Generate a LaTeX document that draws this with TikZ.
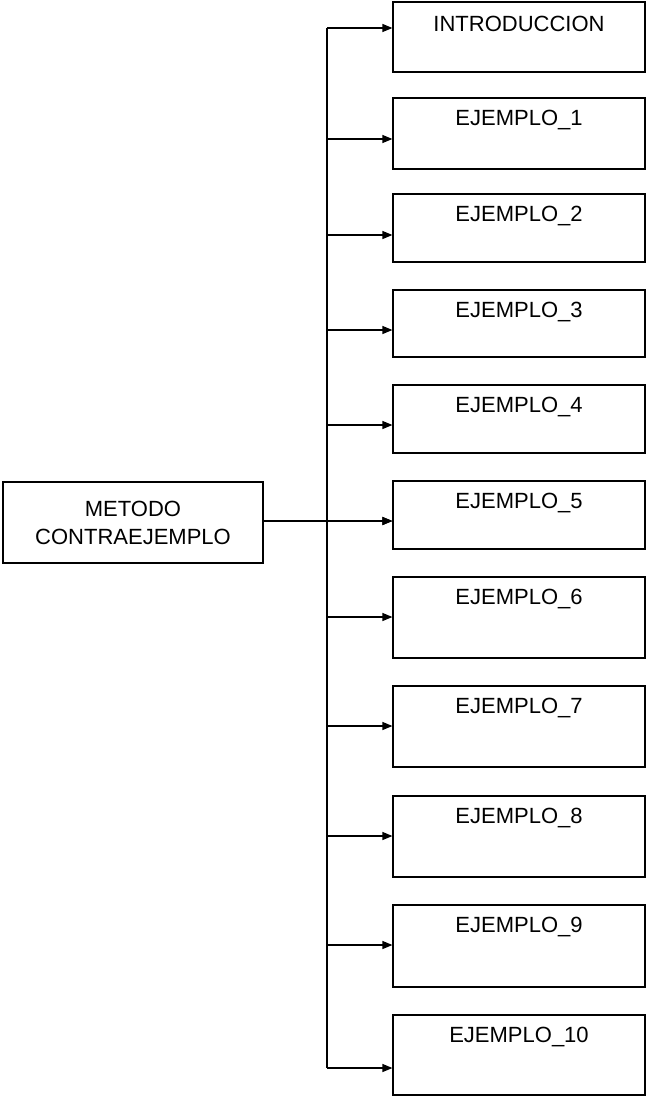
\documentclass[tikz,border=0pt]{standalone}
\usepackage{fontspec}
\setmainfont{Liberation Sans}
\usetikzlibrary{arrows.meta}
\begin{document}
\begin{tikzpicture}[x=1pt,y=-1pt,
  box/.style={draw, line width=1.2pt, rectangle, inner sep=0pt},
  lab/.style={font=\fontsize{22}{28}\selectfont, inner sep=0pt},
  conn/.style={line width=1.2pt},
  arr/.style={conn, -{Triangle[length=10pt,width=8pt]}}]
\useasboundingbox (0,0) rectangle (646,1097);
\foreach \i/\t/\b/\a in {0/2/72/28, 1/98/169/139, 2/194/262/235, 3/290/357/330,
  4/385/453/425, 5/481/549/521, 6/577/658/617, 7/686/767/726, 8/796/877/836,
  9/905/987/945, 10/1015/1095/1068} {
  \node[box, minimum width=252pt, minimum height={(\b-\t)*1pt}] (b\i) at (519,{(\t+\b)/2}) {};
  \node[lab] (t\i) at (519,{\t+22}) {\ifnum\i=0 INTRODUCCION\else EJEMPLO\_\i\fi};
  \coordinate (c\i) at (327,\a);
  \draw[arr] (c\i) -- (c\i -| b\i.west);
}
\draw[conn] (c0) -- (c10);
\node[box, lab, align=center, minimum width=260pt, minimum height=81pt] (m) at (133,522.5) {METODO\\CONTRAEJEMPLO};
\draw[arr] (m.east |- c5) -- (c5 -| b5.west);
\end{tikzpicture}
\end{document}
